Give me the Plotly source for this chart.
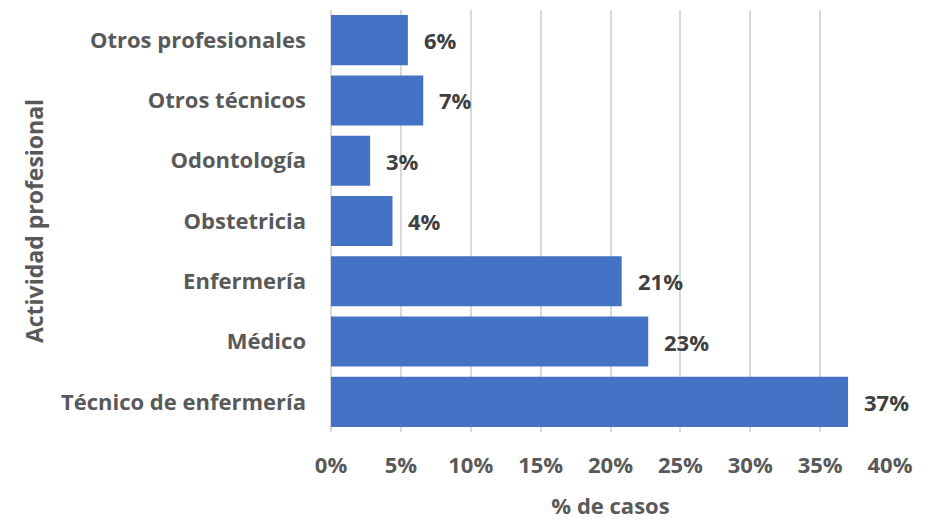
import plotly.graph_objects as go

# data (top to bottom as displayed)
categorias = ['Técnico de enfermería', 'Médico', 'Enfermería', 'Obstetricia',
              'Odontología', 'Otros técnicos', 'Otros profesionales']
porcentajes = [37.0, 22.7, 20.8, 4.4, 2.8, 6.6, 5.5]
etiquetas = ['37%', '23%', '21%', '4%', '3%', '7%', '6%']
ticks_x = [0, 5, 10, 15, 20, 25, 30, 35, 40]

FONT = 'Open Sans'
SIZE = 22
GRIS = '#595959'

fig = go.Figure()

fig.add_trace(go.Bar(
    x=porcentajes,
    y=categorias,
    orientation='h',
    marker=dict(color='#4472C4', line=dict(width=0)),
    hoverinfo='skip'
))

# value labels just past the end of each bar
for cat, val, lab in zip(categorias, porcentajes, etiquetas):
    fig.add_annotation(
        x=val, y=cat, text=lab, showarrow=False,
        xanchor='left', xshift=14,
        font=dict(family=FONT, size=SIZE, color='#404040', weight='bold')
    )

# the page body adds 8px of margin, so the figure is 8px smaller
fig.update_layout(
    width=929,
    height=512,
    margin=dict(l=323, r=47, t=2, b=88),
    bargap=0.17,
    paper_bgcolor='white',
    plot_bgcolor='white',
    showlegend=False,
    font=dict(family=FONT, size=SIZE, color=GRIS, weight='bold'),
    xaxis=dict(
        range=[0, 40],
        tickvals=ticks_x,
        ticktext=[f'{t}%' for t in ticks_x],
        showgrid=True,
        gridcolor='#D9D9D9',
        gridwidth=1.5,
        zeroline=True,
        zerolinecolor='#D9D9D9',
        zerolinewidth=1.5,
        showline=False,
        ticks='',
        ticklabelstandoff=18,
        tickfont=dict(family=FONT, size=SIZE, color=GRIS, weight='bold'),
        title=dict(text='% de casos', standoff=22,
                   font=dict(family=FONT, size=SIZE, color=GRIS, weight='bold')),
        fixedrange=True
    ),
    yaxis=dict(
        showgrid=False,
        showline=False,
        ticks='',
        ticklabelstandoff=24,
        tickfont=dict(family=FONT, size=SIZE, color=GRIS, weight='bold'),
        title=dict(text='Actividad profesional', standoff=10,
                   font=dict(family=FONT, size=23, color=GRIS, weight='bold')),
        fixedrange=True
    )
)

fig.write_html("out.html", config={'displayModeBar': False})
